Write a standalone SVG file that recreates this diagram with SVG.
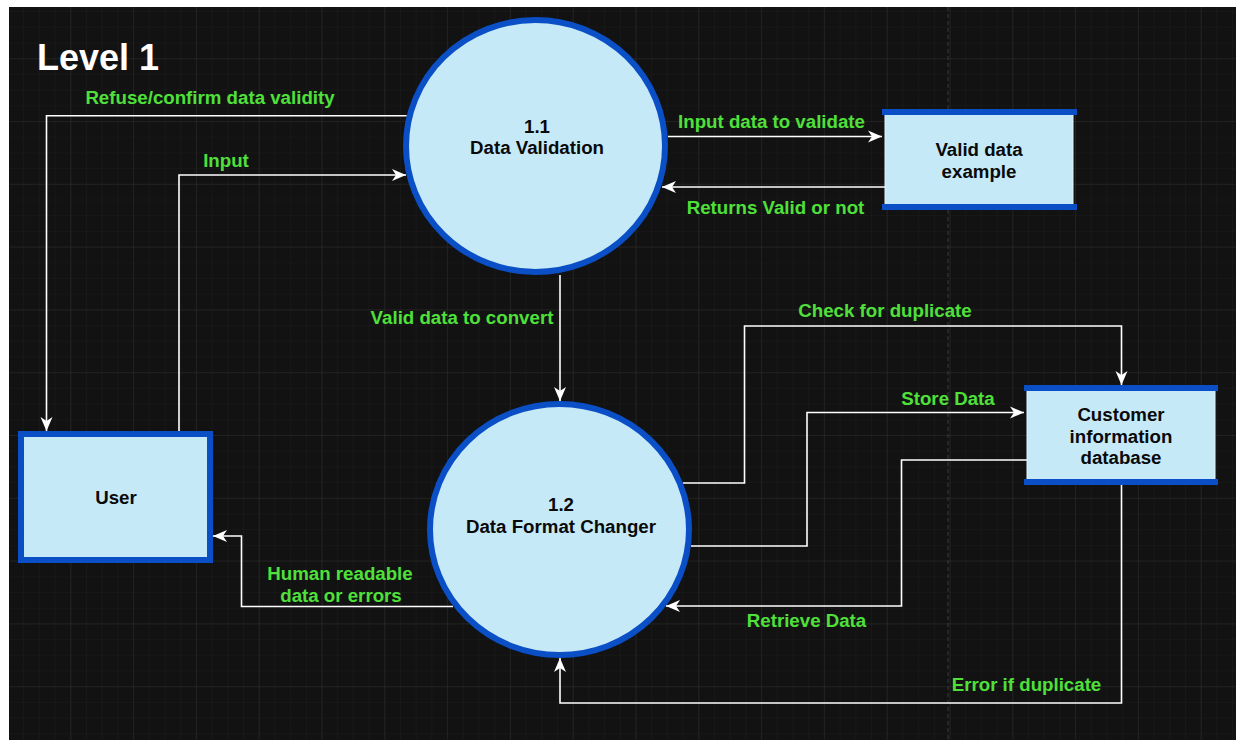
<svg xmlns="http://www.w3.org/2000/svg" width="1236" height="740" viewBox="0 0 1236 740">
  <defs>
    <pattern id="minor" patternUnits="userSpaceOnUse" x="7.5" y="-4.6" width="15.7" height="15.7">
      <path d="M0,0 V15.7 M0,0 H15.7" stroke="#1c1c1c" stroke-width="1" fill="none"/>
    </pattern>
    <pattern id="major" patternUnits="userSpaceOnUse" x="7.5" y="-4.6" width="62.8" height="62.8">
      <path d="M0,0 V62.8 M0,0 H62.8" stroke="#2b2b2b" stroke-width="1" fill="none"/>
    </pattern>
    <marker id="arr" markerUnits="userSpaceOnUse" markerWidth="15" markerHeight="14" refX="14" refY="7" orient="auto">
      <path d="M0,1 L14,7 L0,13 L4,7 Z" fill="#ffffff"/>
    </marker>
    <style>
      .lbl { font-family: "Liberation Sans", Arial, sans-serif; font-weight: bold; font-size: 18.7px; fill: #4fe03a; text-anchor: middle; }
      .nt { font-family: "Liberation Sans", Arial, sans-serif; font-weight: bold; font-size: 18.7px; fill: #0a0a0a; text-anchor: middle; }
      .proc { fill: #c6e9f8; stroke: #0b4fc6; stroke-width: 6; }
      .bar { stroke: #0b4fc6; stroke-width: 6; }
      .store { fill: #c6e9f8; stroke: #e2f5fc; stroke-width: 1; }
      .conn { fill: none; stroke: #ffffff; stroke-width: 1.6; }
    </style>
  </defs>
  <rect x="0" y="0" width="1236" height="740" fill="#ffffff"/>
  <rect x="9" y="7" width="1227" height="733" fill="#121212"/>
  <rect x="9" y="7" width="1227" height="733" fill="url(#minor)"/>
  <rect x="9" y="7" width="1227" height="733" fill="url(#major)"/>
  <line x1="948" y1="7" x2="948" y2="740" stroke="#3a3a3a" stroke-width="1" stroke-dasharray="4,3"/>

  <text x="37" y="70" style="font-family: 'Liberation Sans', Arial, sans-serif; font-weight: bold; font-size: 36px; fill: #ffffff;">Level 1</text>

  <g id="connectors">
    <path class="conn" d="M406.7,115.7 H46.5 V431" marker-end="url(#arr)"/>
    <path class="conn" d="M179,431 V175 H406" marker-end="url(#arr)"/>
    <path class="conn" d="M668,136.5 H882" marker-end="url(#arr)"/>
    <path class="conn" d="M885,187 H662" marker-end="url(#arr)"/>
    <path class="conn" d="M560,275 V401" marker-end="url(#arr)"/>
    <path class="conn" d="M683,483 H744.5 V326 H1121.5 V385" marker-end="url(#arr)"/>
    <path class="conn" d="M691,546 H807 V412.5 H1024" marker-end="url(#arr)"/>
    <path class="conn" d="M1027,460 H901.5 V606 H666" marker-end="url(#arr)"/>
    <path class="conn" d="M1121.5,485 V703 H560 V658" marker-end="url(#arr)"/>
    <path class="conn" d="M453,606.5 H241.5 V536 H213" marker-end="url(#arr)"/>

    <text class="lbl" x="210" y="104">Refuse/confirm data validity</text>
    <text class="lbl" x="226" y="166.5">Input</text>
    <text class="lbl" x="771.5" y="127.5">Input data to validate</text>
    <text class="lbl" x="775.5" y="213.5">Returns Valid or not</text>
    <text class="lbl" x="462" y="324">Valid data to convert</text>
    <text class="lbl" x="885" y="316.5">Check for duplicate</text>
    <text class="lbl" x="948" y="405">Store Data</text>
    <text class="lbl" x="806.5" y="626.5">Retrieve Data</text>
    <text class="lbl" x="1026.5" y="691">Error if duplicate</text>
    <text class="lbl" x="340" y="580">Human readable</text>
    <text class="lbl" x="341" y="601.5">data or errors</text>
  </g>

  <g id="p1-1">
    <ellipse class="proc" cx="535.5" cy="146" rx="129.5" ry="126"/>
    <text class="nt" x="537" y="132.7">1.1</text>
    <text class="nt" x="537" y="154">Data Validation</text>
  </g>

  <g id="p1-2">
    <ellipse class="proc" cx="559.5" cy="529.5" rx="129.5" ry="125.5"/>
    <text class="nt" x="561" y="510.7">1.2</text>
    <text class="nt" x="561" y="532.5">Data Format Changer</text>
  </g>

  <g id="user">
    <rect class="proc" x="21" y="434" width="189" height="126"/>
    <text class="nt" x="116" y="504">User</text>
  </g>

  <g id="valid-data-example">
    <rect class="store" x="885" y="112" width="188" height="95"/>
    <line class="bar" x1="882" y1="112" x2="1077" y2="112"/>
    <line class="bar" x1="882" y1="207" x2="1077" y2="207"/>
    <text class="nt" x="979" y="156">Valid data</text>
    <text class="nt" x="979" y="177.5">example</text>
  </g>

  <g id="customer-db">
    <rect class="store" x="1027" y="388" width="188" height="94"/>
    <line class="bar" x1="1024" y1="388" x2="1218" y2="388"/>
    <line class="bar" x1="1024" y1="482" x2="1218" y2="482"/>
    <text class="nt" x="1121" y="420.7">Customer</text>
    <text class="nt" x="1121" y="442.7">information</text>
    <text class="nt" x="1121" y="464.3">database</text>
  </g>
</svg>
